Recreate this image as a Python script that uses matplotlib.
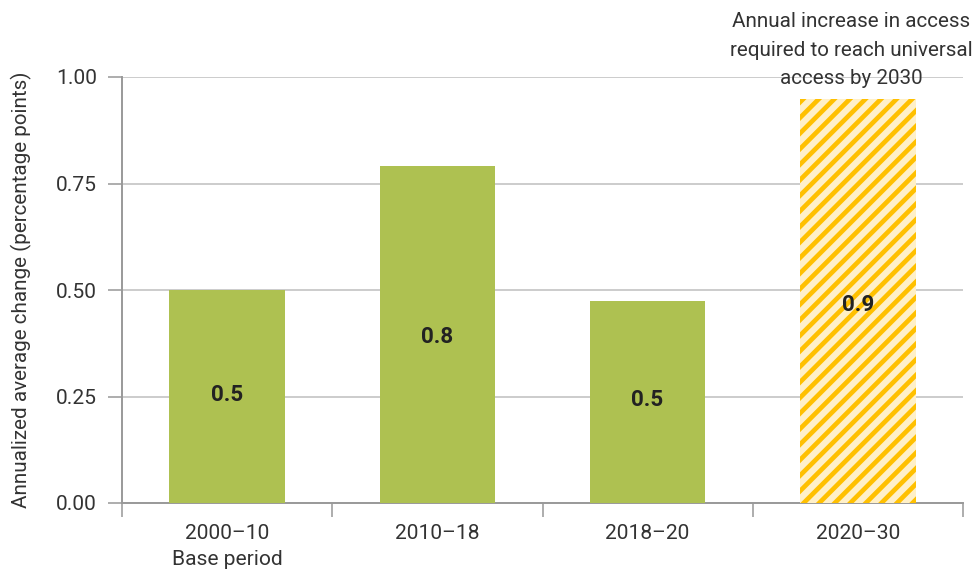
import matplotlib
matplotlib.use("Agg")
from matplotlib import pyplot as plt

# datos del grafico
periodos = ["2000\u201310\nBase period", "2010\u201318", "2018\u201320", "2020\u201330"]
valores = [0.50, 0.79, 0.475, 0.948]
etiquetas = ["0.5", "0.8", "0.5", "0.9"]
yticks = [0.00, 0.25, 0.50, 0.75, 1.00]
nota = "Annual increase in access\nrequired to reach universal\naccess by 2030"

verde = "#AEC151"
amarillo = "#FFC000"
crema = "#FFF0C8"
gris_texto = "#333333"

plt.rcParams["font.family"] = ["Roboto", "DejaVu Sans"]
plt.rcParams["hatch.linewidth"] = 2.4

DPI = 140
fig = plt.figure(figsize=(977 / DPI, 569 / DPI), dpi=DPI)
ax = fig.add_axes([122 / 977, 1 - 503 / 569, (963 - 122) / 977, (503 - 77) / 569])

x = list(range(len(valores)))
colores = [verde, verde, verde, crema]
barras = ax.bar(x, valores, width=0.55, color=colores, linewidth=0, zorder=3)
# barra rayada de la meta
barras[3].set_hatch("///")
barras[3].set_edgecolor(amarillo)

for xi, v, t in zip(x, valores, etiquetas):
    ax.text(xi, v / 2 * 0.95 + 0.015, t, ha="center", va="center", fontsize=11.5,
            fontweight="bold", color="#222222", zorder=4)

ax.set_xlim(-0.5, 3.5)
ax.set_ylim(0, 1.0)
ax.set_yticks(yticks)
ax.set_yticklabels([f"{t:.2f}" for t in yticks])
ax.set_xticks([-0.5, 0.5, 1.5, 2.5, 3.5])
ax.set_xticklabels([])
ax.set_xticks(x, minor=True)
ax.set_xticklabels(periodos, minor=True, linespacing=1.45)
ax.tick_params(axis="x", which="minor", length=0, pad=11)
ax.tick_params(axis="x", which="major", length=7, color="#999999", direction="out")
ax.tick_params(axis="y", length=7, color="#999999", pad=6)
ax.tick_params(which="both", labelsize=10.8, labelcolor=gris_texto)

ax.grid(axis="y", color="#CCCCCC", linewidth=1, zorder=0)
for s in ["top", "right"]:
    ax.spines[s].set_visible(False)
for s in ["left", "bottom"]:
    ax.spines[s].set_color("#999999")
    ax.spines[s].set_linewidth(1)

ax.set_ylabel("Annualized average change (percentage points)", fontsize=10.6,
              color=gris_texto)
ax.yaxis.set_label_coords(-0.107, 0.5)

fig.text(851 / 977, 1 - 12 / 569, nota, ha="center", va="top", fontsize=10.6,
         color=gris_texto, linespacing=1.65)

fig.savefig("out.png", dpi=DPI)
